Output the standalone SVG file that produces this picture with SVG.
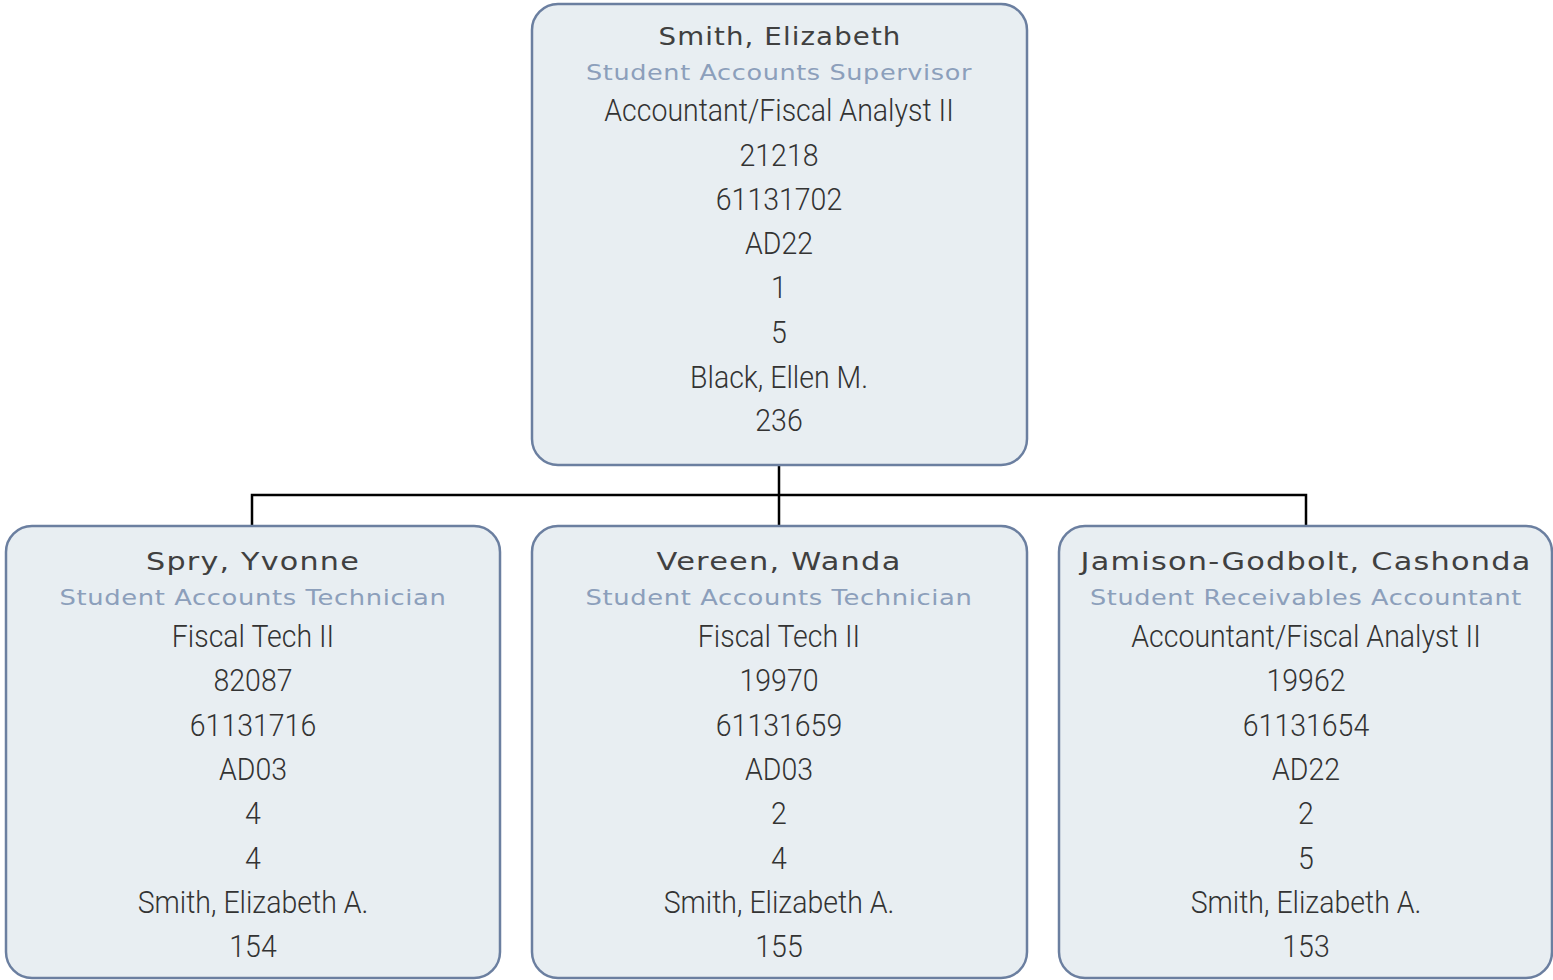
<svg xmlns="http://www.w3.org/2000/svg" width="1553" height="980" viewBox="0 0 1553 980">
<style>
.box{fill:#e8eef2;stroke:#6b7fa0;stroke-width:2.5}
.nm{font-family:"DejaVu Sans",sans-serif;font-size:25px;fill:#404040;text-anchor:middle;letter-spacing:1px}
.tt{font-family:"DejaVu Sans",sans-serif;font-size:21px;fill:#8c9fbb;text-anchor:middle;letter-spacing:0.5px}
.dt{font-family:Roboto,sans-serif;font-weight:300;font-size:32px;fill:#333;text-anchor:middle}
.cn{fill:none;stroke:#000;stroke-width:2.5}
</style>
<rect width="1553" height="980" fill="#fff"/>
<g id="connectors">
<path class="cn" d="M779,465V495M252,526V495H1306V526M779,495V526"/>
</g>
<g id="node-smith">
<rect class="box" x="532" y="4" width="495" height="461" rx="26"/>
<text class="nm" x="780" y="45" textLength="243" lengthAdjust="spacingAndGlyphs">Smith, Elizabeth</text>
<text class="tt" x="779" y="80" textLength="386" lengthAdjust="spacingAndGlyphs">Student Accounts Supervisor</text>
<g class="dt" transform="translate(779 0) scale(0.89 1)">
<text x="0" y="121">Accountant/Fiscal Analyst II</text>
<text x="0" y="166">21218</text>
<text x="0" y="210">61131702</text>
<text x="0" y="254">AD22</text>
<text x="0" y="298">1</text>
<text x="0" y="343">5</text>
<text x="0" y="388">Black, Ellen M.</text>
<text x="0" y="431">236</text>
</g>
</g>
<g id="node-spry">
<rect class="box" x="6" y="526" width="494" height="452" rx="26"/>
<text class="nm" x="253" y="570" textLength="214" lengthAdjust="spacingAndGlyphs">Spry, Yvonne</text>
<text class="tt" x="253" y="605" textLength="387" lengthAdjust="spacingAndGlyphs">Student Accounts Technician</text>
<g class="dt" transform="translate(253 0) scale(0.89 1)">
<text x="0" y="647">Fiscal Tech II</text>
<text x="0" y="691">82087</text>
<text x="0" y="736">61131716</text>
<text x="0" y="780">AD03</text>
<text x="0" y="824">4</text>
<text x="0" y="869">4</text>
<text x="0" y="913">Smith, Elizabeth A.</text>
<text x="0" y="957">154</text>
</g>
</g>
<g id="node-vereen">
<rect class="box" x="532" y="526" width="495" height="452" rx="26"/>
<text class="nm" x="779" y="570" textLength="245" lengthAdjust="spacingAndGlyphs">Vereen, Wanda</text>
<text class="tt" x="779" y="605" textLength="387" lengthAdjust="spacingAndGlyphs">Student Accounts Technician</text>
<g class="dt" transform="translate(779 0) scale(0.89 1)">
<text x="0" y="647">Fiscal Tech II</text>
<text x="0" y="691">19970</text>
<text x="0" y="736">61131659</text>
<text x="0" y="780">AD03</text>
<text x="0" y="824">2</text>
<text x="0" y="869">4</text>
<text x="0" y="913">Smith, Elizabeth A.</text>
<text x="0" y="957">155</text>
</g>
</g>
<g id="node-jamison">
<rect class="box" x="1059" y="526" width="493" height="452" rx="26"/>
<text class="nm" x="1306" y="570" textLength="451" lengthAdjust="spacingAndGlyphs">Jamison-Godbolt, Cashonda</text>
<text class="tt" x="1306" y="605" textLength="432" lengthAdjust="spacingAndGlyphs">Student Receivables Accountant</text>
<g class="dt" transform="translate(1306 0) scale(0.89 1)">
<text x="0" y="647">Accountant/Fiscal Analyst II</text>
<text x="0" y="691">19962</text>
<text x="0" y="736">61131654</text>
<text x="0" y="780">AD22</text>
<text x="0" y="824">2</text>
<text x="0" y="869">5</text>
<text x="0" y="913">Smith, Elizabeth A.</text>
<text x="0" y="957">153</text>
</g>
</g>
</svg>
